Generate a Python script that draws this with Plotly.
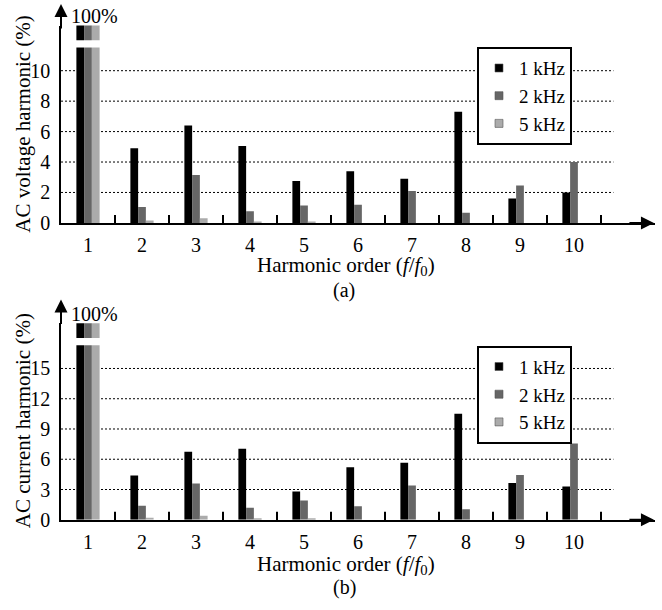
import plotly.graph_objects as go

# ---------------- data ----------------
harmonic_order = [1, 2, 3, 4, 5, 6, 7, 8, 9, 10]
tick_labels = ["1", "2", "3", "4", "5", "6", "7", "8", "9", "10"]
series_names = ["1 kHz", "2 kHz", "5 kHz"]
series_colors = ["#000000", "#666666", "#ababab"]

voltage_1k = [100, 4.9, 6.4, 5.05, 2.75, 3.4, 2.9, 7.3, 1.6, 2.0]
voltage_2k = [100, 1.05, 3.15, 0.77, 1.15, 1.2, 2.1, 0.67, 2.45, 4.0]
voltage_5k = [100, 0.15, 0.3, 0.1, 0.1, 0, 0, 0, 0, 0]

current_1k = [100, 4.4, 6.75, 7.05, 2.8, 5.2, 5.65, 10.5, 3.65, 3.3]
current_2k = [100, 1.4, 3.6, 1.2, 1.9, 1.35, 3.4, 1.05, 4.45, 7.55]
current_5k = [100, 0.2, 0.4, 0.1, 0.1, 0, 0, 0, 0, 0]

voltage_ticks = [0, 2, 4, 6, 8, 10]
current_ticks = [0, 3, 6, 9, 12, 15]
x_boundaries = [1.5, 2.5, 3.5, 4.5, 5.5, 6.5, 7.5, 8.5, 9.5, 10.5]

FONT = "Times New Roman, Liberation Serif, serif"
W, H = 662, 610

def py(px):
    return 1 - px / H

def pxx(px):
    return px / W

fig = go.Figure()

for vals, name, col in zip([voltage_1k, voltage_2k, voltage_5k], series_names, series_colors):
    fig.add_trace(go.Bar(x=harmonic_order, y=vals, name=name, marker_color=col,
                         marker_line=dict(width=0),
                         xaxis="x", yaxis="y", showlegend=False))
for vals, name, col in zip([current_1k, current_2k, current_5k], series_names, series_colors):
    fig.add_trace(go.Bar(x=harmonic_order, y=vals, name=name, marker_color=col,
                         marker_line=dict(width=0),
                         xaxis="x2", yaxis="y2", showlegend=False))

# legend entries
for lg in ["legend", "legend2"]:
    for name, col in zip(series_names, series_colors):
        fig.add_trace(go.Scatter(x=[None], y=[None], mode="markers", name=name,
                                 marker=dict(symbol="square", size=8, color=col,
                                             line=dict(color="#555555", width=0.6)),
                                 xaxis="x" if lg == "legend" else "x2",
                                 yaxis="y" if lg == "legend" else "y2",
                                 legend=lg))

# axis geometry (pixels)
top_axis_y, top_plot_top = 227, 26
bot_axis_y, bot_plot_top = 529.3, 329.3
v_scale = 15.5     # px per unit, top
c_scale = 10.27    # px per unit, bottom
v_top = (top_axis_y - top_plot_top) / v_scale
c_top = (bot_axis_y - bot_plot_top) / c_scale

xdom = [pxx(61), pxx(655)]
# axis carrying the line and the boundary tick marks
tick_x = dict(range=[0.5, 11.5], domain=xdom, showline=True, linecolor="black", linewidth=1.5,
              tickmode="array", tickvals=x_boundaries, ticks="inside", ticklen=8, tickwidth=2,
              tickcolor="black", showticklabels=False, showgrid=False, zeroline=False)
# overlay axis carrying the category labels
label_x = dict(range=[0.5, 11.5], domain=xdom, showline=False, tickmode="array",
               tickvals=harmonic_order, ticktext=tick_labels, ticks="", showgrid=False,
               zeroline=False, tickfont=dict(family=FONT, size=20, color="black"),
               ticklabelstandoff=8, side="bottom")
common_y = dict(showline=True, linecolor="black", linewidth=1.5, ticks="", showgrid=False,
                zeroline=False, tickfont=dict(family=FONT, size=20, color="black"),
                ticklabelstandoff=5)

leg_common = dict(xanchor="left", yanchor="top", bordercolor="black", borderwidth=2,
                  bgcolor="white", font=dict(family=FONT, size=19, color="black"),
                  itemsizing="trace", tracegroupgap=0)

fig.update_layout(
    width=W, height=H, margin=dict(l=0, r=0, t=0, b=0),
    paper_bgcolor="white", plot_bgcolor="white",
    barmode="group", bargap=0.57, bargroupgap=0,
    font=dict(family=FONT, size=20, color="black"),
    xaxis=dict(**tick_x, anchor="y"),
    xaxis3=dict(**label_x, anchor="y", overlaying="x"),
    yaxis=dict(**common_y, domain=[py(top_axis_y), py(top_plot_top)], range=[0, v_top],
               tickmode="array", tickvals=voltage_ticks, anchor="x"),
    xaxis2=dict(**tick_x, anchor="y2"),
    xaxis4=dict(**label_x, anchor="y2", overlaying="x2"),
    yaxis2=dict(**common_y, domain=[py(bot_axis_y), py(bot_plot_top)], range=[0, c_top],
                tickmode="array", tickvals=current_ticks, anchor="x2"),
    legend=dict(x=pxx(477), y=py(48), **leg_common),
    legend2=dict(x=pxx(477), y=py(352), **leg_common),
)
# invisible traces to activate the label axes
fig.add_trace(go.Scatter(x=[None], y=[None], xaxis="x3", yaxis="y", showlegend=False, hoverinfo="skip"))
fig.add_trace(go.Scatter(x=[None], y=[None], xaxis="x4", yaxis="y2", showlegend=False, hoverinfo="skip"))

shapes = []
# dotted gridlines
for v in voltage_ticks[1:]:
    shapes.append(dict(type="line", xref="x", yref="y", x0=0.5, x1=10.73, y0=v, y1=v,
                       line=dict(color="black", width=1, dash="2px,2px"), layer="below"))
for v in current_ticks[1:]:
    shapes.append(dict(type="line", xref="x2", yref="y2", x0=0.5, x1=10.73, y0=v, y1=v,
                       line=dict(color="black", width=1, dash="2px,2px"), layer="below"))
# category-boundary tick marks (8 px high, standing on the x axis)
for xr, yr in [("x", "y"), ("x2", "y2")]:
    for b in x_boundaries:
        shapes.append(dict(type="line", xref=xr, yref=yr, ysizemode="pixel", yanchor=0,
                           x0=b, x1=b, y0=0, y1=8, line=dict(color="black", width=2),
                           layer="above"))
# axis break on the 100% bars
shapes.append(dict(type="rect", xref="x", yref="y", x0=0.7, x1=1.3,
                   y0=(top_axis_y - 48.3) / v_scale, y1=(top_axis_y - 41) / v_scale,
                   fillcolor="white", line=dict(width=0), layer="above"))
shapes.append(dict(type="rect", xref="x2", yref="y2", x0=0.7, x1=1.3,
                   y0=(bot_axis_y - 351.7) / c_scale, y1=(bot_axis_y - 344.3) / c_scale,
                   fillcolor="white", line=dict(width=0), layer="above"))
fig.update_layout(shapes=shapes)

ann = []
# axis arrows
for xr, yr, tip_y in [("x", "y", 4), ("x2", "y2", 305)]:
    ann.append(dict(x=0.5, y=py(tip_y), xref=xr, yref="paper", ax=0, ay=26, text="",
                    showarrow=True, arrowhead=2, arrowsize=1.3, arrowwidth=2, arrowcolor="black"))
    ann.append(dict(x=11.48, y=0, xref=xr, yref=yr, ax=-26, ay=0, text="",
                    showarrow=True, arrowhead=2, arrowsize=1.3, arrowwidth=2, arrowcolor="black"))
# 100% labels
for xr, cy in [("x", 16), ("x2", 320)]:
    ann.append(dict(x=1, y=py(cy), xref=xr, yref="paper", text="100%", showarrow=False,
                    xshift=6, font=dict(family=FONT, size=20), xanchor="center", yanchor="middle"))
# axis titles
ann.append(dict(x=pxx(23), y=py(126), xref="paper", yref="paper", text="AC voltage harmonic (%)",
                textangle=-90, showarrow=False, font=dict(family=FONT, size=21),
                xanchor="center", yanchor="middle"))
ann.append(dict(x=pxx(23), y=py(429), xref="paper", yref="paper", text="AC current harmonic (%)",
                textangle=-90, showarrow=False, font=dict(family=FONT, size=21),
                xanchor="center", yanchor="middle"))
xt = "Harmonic order (<i>f</i>/<i>f</i><sub>0</sub>)"
for cy, lab_y, lab in [(271, 296, "(a)"), (575.5, 598, "(b)")]:
    ann.append(dict(x=pxx(346), y=py(cy), xref="paper", yref="paper", text=xt, showarrow=False,
                    font=dict(family=FONT, size=21), xanchor="center", yanchor="middle"))
    ann.append(dict(x=pxx(344), y=py(lab_y), xref="paper", yref="paper", text=lab, showarrow=False,
                    font=dict(family=FONT, size=20), xanchor="center", yanchor="middle"))
fig.update_layout(annotations=ann)

fig.write_html("out.html")
